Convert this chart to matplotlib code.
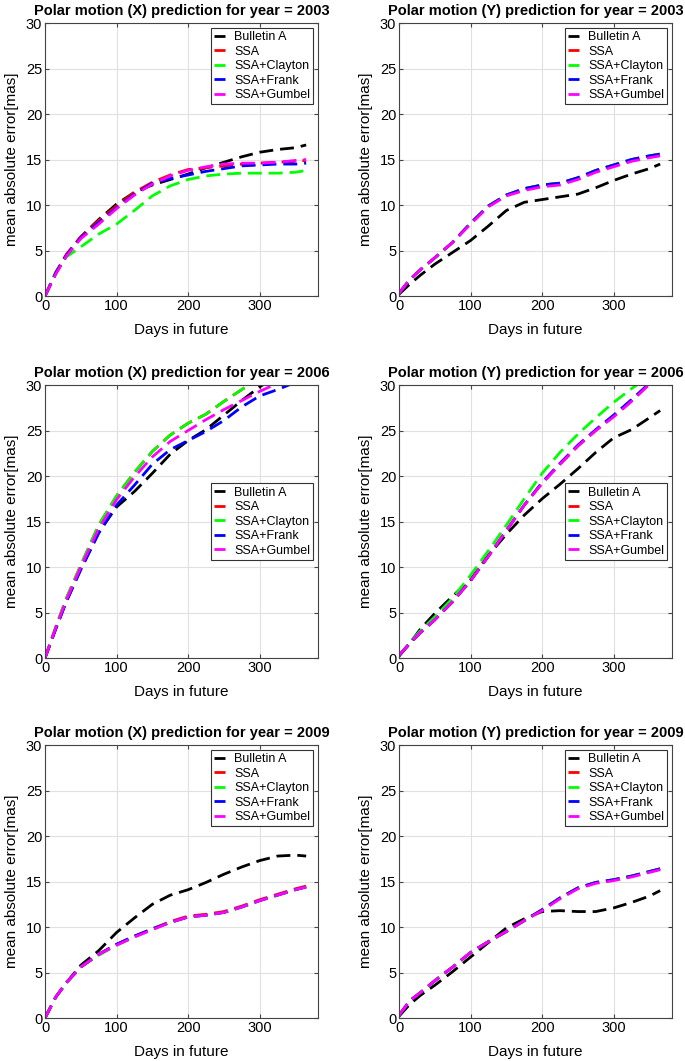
import matplotlib
matplotlib.use("Agg")
import matplotlib.pyplot as plt

plt.rcParams['font.family'] = ['Liberation Sans', 'DejaVu Sans']

# days in future (sample points)
days = [0, 15, 30, 50, 75, 100, 125, 150, 175, 200, 225, 250, 275, 300, 325, 350, 365]

series_names = ["Bulletin A", "SSA", "SSA+Clayton", "SSA+Frank", "SSA+Gumbel"]
series_colors = ["#000000", "#ff0000", "#00ff00", "#0000ff", "#ff00ff"]

# X 2003
x2003_bull = [0, 2.6, 4.5, 6.5, 8.4, 10.1, 11.4, 12.2, 12.8, 13.4, 14.1, 14.7, 15.3, 15.8, 16.1, 16.3, 16.6]
x2003_ssa = [0, 2.5, 4.6, 6.5, 8.3, 9.9, 11.4, 12.5, 13.3, 13.9, 14.1, 14.3, 14.5, 14.6, 14.7, 14.8, 14.9]
x2003_clay = [0, 2.5, 4.3, 5.4, 6.8, 7.9, 9.4, 11.0, 12.1, 12.8, 13.2, 13.4, 13.5, 13.5, 13.5, 13.6, 13.8]
x2003_frank = [0, 2.5, 4.5, 6.4, 8.1, 9.7, 11.2, 12.4, 12.9, 13.3, 13.7, 14.0, 14.3, 14.4, 14.5, 14.5, 14.6]
x2003_gumb = [0, 2.4, 4.4, 6.3, 7.9, 9.6, 11.1, 12.3, 13.2, 13.8, 14.2, 14.5, 14.6, 14.6, 14.7, 14.9, 15.0]

# Y 2003
y2003_bull = [0.2, 1.3, 2.3, 3.5, 4.8, 6.1, 7.7, 9.4, 10.3, 10.6, 10.9, 11.2, 11.9, 12.7, 13.4, 14.0, 14.5]
y2003_ssa = [0.3, 1.8, 2.9, 4.2, 5.9, 8.0, 9.9, 11.1, 11.8, 12.2, 12.4, 13.0, 13.8, 14.4, 15.0, 15.4, 15.6]
y2003_clay = [0.3, 1.8, 2.9, 4.2, 5.9, 8.0, 9.9, 11.1, 11.8, 12.2, 12.4, 13.0, 13.8, 14.4, 15.0, 15.4, 15.6]
y2003_frank = [0.3, 1.8, 2.9, 4.2, 5.9, 8.0, 9.9, 11.1, 11.8, 12.2, 12.4, 13.0, 13.8, 14.4, 15.0, 15.4, 15.6]
y2003_gumb = [0.3, 1.8, 2.9, 4.2, 5.9, 7.9, 9.8, 11.0, 11.6, 12.0, 12.2, 12.8, 13.6, 14.2, 14.8, 15.2, 15.4]

# X 2006
x2006_bull = [0, 3.2, 6.3, 9.8, 13.8, 16.6, 18.3, 20.3, 22.4, 23.9, 25.1, 26.7, 28.3, 29.8, 31.0, 32.0, 32.6]
x2006_ssa = [0, 3.4, 6.6, 10.2, 14.6, 17.8, 20.4, 22.7, 24.5, 25.8, 26.8, 28.2, 29.5, 30.8, 32.0, 33.0, 33.6]
x2006_clay = [0, 3.4, 6.6, 10.2, 14.6, 17.8, 20.4, 22.7, 24.5, 25.8, 26.8, 28.2, 29.5, 30.8, 32.0, 33.0, 33.6]
x2006_frank = [0, 3.2, 6.2, 9.7, 13.7, 16.8, 19.0, 21.3, 22.9, 23.9, 24.9, 26.1, 27.6, 28.8, 29.5, 30.3, 30.8]
x2006_gumb = [0, 3.3, 6.4, 10.0, 14.2, 17.4, 19.9, 22.1, 23.8, 25.0, 26.2, 27.3, 28.3, 29.3, 30.2, 31.0, 31.5]

# Y 2006
y2006_bull = [0.2, 1.6, 3.2, 4.9, 6.8, 8.6, 11.3, 13.6, 15.7, 17.5, 19.1, 20.8, 22.6, 24.2, 25.1, 26.4, 27.2]
y2006_ssa = [0.3, 1.6, 2.8, 4.2, 6.2, 8.5, 11.2, 14.0, 16.8, 19.2, 21.3, 23.3, 25.0, 26.6, 28.3, 30.1, 31.0]
y2006_clay = [0.3, 1.7, 3.0, 4.5, 6.6, 9.1, 11.8, 14.6, 17.5, 20.3, 22.6, 24.6, 26.4, 28.1, 29.6, 31.0, 31.8]
y2006_frank = [0.3, 1.6, 2.8, 4.2, 6.2, 8.5, 11.2, 14.0, 16.8, 19.3, 21.4, 23.4, 25.1, 26.7, 28.4, 30.2, 31.1]
y2006_gumb = [0.3, 1.6, 2.8, 4.2, 6.2, 8.5, 11.2, 14.0, 16.8, 19.2, 21.3, 23.3, 25.0, 26.5, 28.2, 30.1, 31.0]

# X 2009
x2009_bull = [0, 2.3, 3.9, 5.8, 7.4, 9.4, 11.0, 12.5, 13.5, 14.1, 14.9, 15.8, 16.6, 17.3, 17.8, 17.9, 17.8]
x2009_ssa = [0, 2.3, 3.9, 5.6, 7.0, 8.1, 9.0, 9.8, 10.6, 11.2, 11.4, 11.7, 12.3, 13.0, 13.6, 14.2, 14.5]
x2009_clay = [0, 2.3, 3.9, 5.6, 6.9, 8.0, 8.9, 9.8, 10.5, 11.1, 11.3, 11.6, 12.2, 12.9, 13.5, 14.1, 14.4]
x2009_frank = [0, 2.3, 3.9, 5.6, 7.0, 8.1, 9.0, 9.8, 10.5, 11.1, 11.3, 11.6, 12.2, 12.9, 13.5, 14.1, 14.4]
x2009_gumb = [0, 2.3, 3.9, 5.6, 7.0, 8.0, 8.9, 9.7, 10.5, 11.1, 11.3, 11.6, 12.2, 12.9, 13.5, 14.1, 14.4]

# Y 2009
y2009_bull = [0.2, 1.5, 2.5, 3.6, 5.1, 6.7, 8.3, 9.9, 10.9, 11.7, 11.8, 11.7, 11.7, 12.1, 12.7, 13.4, 14.0]
y2009_ssa = [0.3, 1.9, 2.8, 4.1, 5.6, 7.2, 8.4, 9.5, 10.7, 11.9, 13.2, 14.3, 14.9, 15.2, 15.6, 16.1, 16.4]
y2009_clay = [0.3, 1.9, 2.8, 4.1, 5.6, 7.2, 8.4, 9.5, 10.7, 11.9, 13.2, 14.3, 14.9, 15.2, 15.6, 16.1, 16.4]
y2009_frank = [0.3, 1.9, 2.8, 4.1, 5.6, 7.2, 8.4, 9.5, 10.7, 11.9, 13.2, 14.3, 14.9, 15.2, 15.6, 16.1, 16.4]
y2009_gumb = [0.3, 1.9, 2.8, 4.1, 5.6, 7.2, 8.4, 9.5, 10.7, 11.8, 13.1, 14.2, 14.8, 15.1, 15.5, 16.0, 16.3]

panels = [
    ("Polar motion (X) prediction for year = 2003", [x2003_bull, x2003_ssa, x2003_clay, x2003_frank, x2003_gumb], "upper right"),
    ("Polar motion (Y) prediction for year = 2003", [y2003_bull, y2003_ssa, y2003_clay, y2003_frank, y2003_gumb], "upper right"),
    ("Polar motion (X) prediction for year = 2006", [x2006_bull, x2006_ssa, x2006_clay, x2006_frank, x2006_gumb], "center right"),
    ("Polar motion (Y) prediction for year = 2006", [y2006_bull, y2006_ssa, y2006_clay, y2006_frank, y2006_gumb], "center right"),
    ("Polar motion (X) prediction for year = 2009", [x2009_bull, x2009_ssa, x2009_clay, x2009_frank, x2009_gumb], "upper right"),
    ("Polar motion (Y) prediction for year = 2009", [y2009_bull, y2009_ssa, y2009_clay, y2009_frank, y2009_gumb], "upper right"),
]

fig = plt.figure(figsize=(6.85, 10.61), dpi=100)
lefts = [0.0657, 0.5825]
bottoms = [0.721, 0.3798, 0.0405]
w, h = 0.399, 0.2573

for i, (title, data, loc) in enumerate(panels):
    ax = fig.add_axes([lefts[i % 2], bottoms[i // 2], w, h])
    for name, col, vals in zip(series_names, series_colors, data):
        ax.plot(days, vals, color=col, lw=2, dashes=(5, 2.5), label=name)
    ax.set_xlim(0, 382)
    ax.set_ylim(0, 30)
    ax.set_xticks([0, 100, 200, 300])
    ax.set_yticks([0, 5, 10, 15, 20, 25, 30])
    ax.grid(True, color="#e0e0e0", lw=0.8)
    ax.set_axisbelow(True)
    ax.tick_params(direction="in", labelsize=10.5, length=3, color="#444444",
                   top=True, right=True, pad=2)
    for s in ax.spines.values():
        s.set_color("#444444")
        s.set_linewidth(0.8)
    ax.set_title(title, fontsize=10.5, fontweight="bold", pad=6)
    ax.set_xlabel("Days in future", fontsize=11, labelpad=7)
    ax.set_ylabel("mean absolute error[mas]", fontsize=11, labelpad=5)
    leg = ax.legend(loc=loc, fontsize=9, handlelength=0.9, handletextpad=0.7,
                    borderpad=0.25, labelspacing=0.2, borderaxespad=0.4,
                    fancybox=False, framealpha=1)
    leg.get_frame().set_edgecolor("#333333")
    leg.get_frame().set_linewidth(0.8)

fig.savefig("out.png", dpi=100)
